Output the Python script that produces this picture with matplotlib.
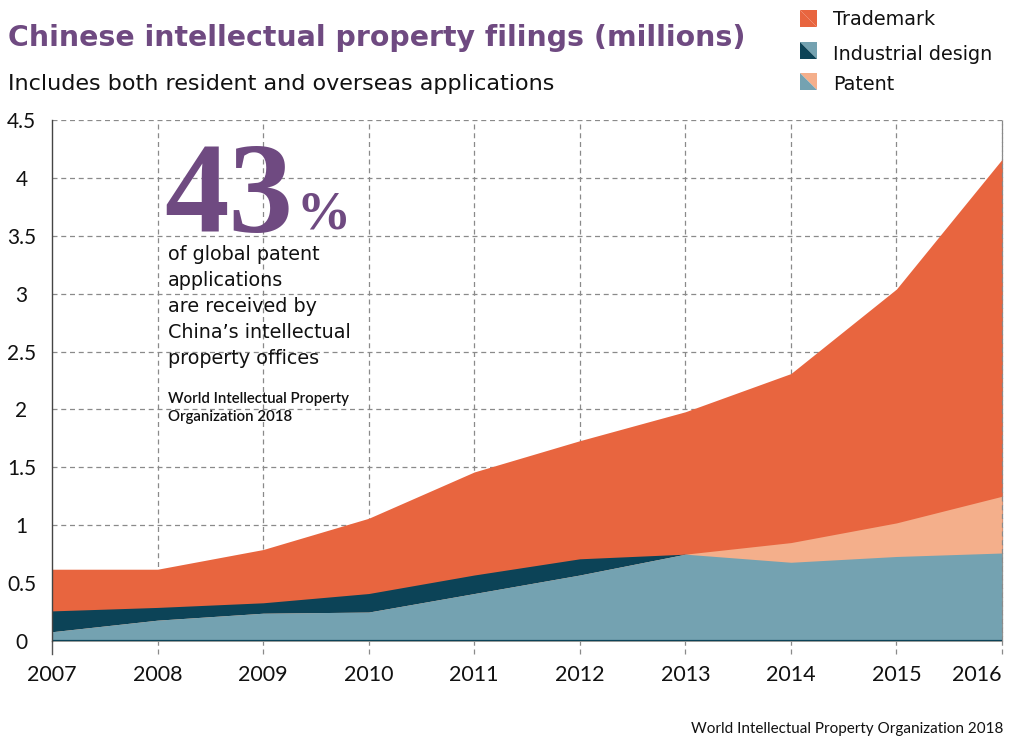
import matplotlib
matplotlib.use("Agg")
import matplotlib.pyplot as plt
import numpy as np
from matplotlib.patches import Polygon

years = [2007, 2008, 2009, 2010, 2011, 2012, 2013, 2014, 2015, 2016]
trademark = [0.62, 0.62, 0.79, 1.06, 1.46, 1.73, 1.98, 2.31, 3.04, 4.16]
industrial_design = [0.26, 0.29, 0.33, 0.41, 0.57, 0.71, 0.75, 0.68, 0.73, 0.76]
patent = [0.08, 0.18, 0.24, 0.25, 0.41, 0.57, 0.75, 0.85, 1.02, 1.25]
yticks = [0, 0.5, 1, 1.5, 2, 2.5, 3, 3.5, 4, 4.5]
ytick_labels = ["0", "0.5", "1", "1.5", "2", "2.5", "3", "3.5", "4", "4.5"]
legend_labels = ["Trademark", "Industrial design", "Patent"]

C_TM = "#E8653F"
C_DARK = "#0C4357"
C_BLUE = "#74A2B1"
C_SALMON = "#F4AF8B"
PURPLE = "#6F4A81"
SANS = "DejaVu Sans"
TICKF = "Lato"

W, H = 1029, 739
fig = plt.figure(figsize=(W / 100, H / 100), dpi=100)
x0, x1, yb, yt = 52, 1002, 641, 120
ax = fig.add_axes([x0 / W, 1 - yb / H, (x1 - x0) / W, (yb - yt) / H])

x = np.array(years)
tm = np.array(trademark)
de = np.array(industrial_design)
pa = np.array(patent)

ax.fill_between(x, 0, tm, color=C_TM, lw=0, zorder=2)
ax.fill_between(x, 0, de, color=C_DARK, lw=0, zorder=3)
ax.fill_between(x, 0, pa, color=C_SALMON, lw=0, zorder=4)
ax.fill_between(x, 0, np.minimum(de, pa), color=C_BLUE, lw=0, zorder=5)

ax.set_xlim(years[0], years[-1])
ax.set_ylim(0, 4.5)

# grid
for yv in yticks[1:]:
    ax.plot([years[0], years[-1]], [yv, yv], color="#8a8a8a", lw=0.9,
            dashes=(4, 3), zorder=1)
for xv in years[1:]:
    ax.plot([xv, xv], [-0.11, 4.5], color="#8a8a8a", lw=0.9,
            dashes=(4, 3), zorder=1, clip_on=False)
ax.plot([years[-1], years[-1]], [0, 4.5], color="#8a8a8a", lw=0.9,
        dashes=(4, 3), zorder=6, clip_on=False)
ax.plot([years[0], years[0]], [-0.11, 0], color="#555555", lw=1.0,
        zorder=6, clip_on=False)

for s in ["top", "right", "bottom"]:
    ax.spines[s].set_visible(False)
ax.spines["left"].set_color("#444444")
ax.spines["left"].set_linewidth(1.0)
ax.spines["left"].set_zorder(7)
ax.axhline(0, color=C_DARK, lw=1.6, zorder=7)

ax.set_yticks(yticks)
ax.set_yticklabels(ytick_labels, fontfamily=TICKF, fontsize=15, color="#111111")
ax.tick_params(axis="y", length=0, pad=22)
for lab in ax.get_yticklabels():
    lab.set_horizontalalignment("center")

ax.set_xticks(years)
ax.set_xticklabels([str(y) for y in years], fontfamily=TICKF, fontsize=15.5,
                   color="#111111")
ax.tick_params(axis="x", length=0, pad=17)
ax.get_xticklabels()[-1].set_horizontalalignment("right")

# titles
fig.text(8 / W, 1 - 46 / H, "Chinese intellectual property filings (millions)",
         fontfamily=SANS, fontweight="bold", fontsize=20.4, color=PURPLE,
         va="baseline", ha="left")
fig.text(8 / W, 1 - 90 / H, "Includes both resident and overseas applications",
         fontfamily=SANS, fontsize=16.0, color="#111111", va="baseline", ha="left")

# annotation
fig.text(164 / W, 1 - 232 / H, "43", fontfamily="Liberation Serif",
         fontweight="bold", fontsize=93, color=PURPLE, va="baseline", ha="left")
fig.text(296 / W, 1 - 228 / H, "%", fontfamily="Liberation Serif",
         fontweight="bold", fontsize=39, color=PURPLE, va="baseline", ha="left")
fig.text(168 / W, 1 - 245 / H,
         "of global patent\napplications\nare received by\nChina\u2019s intellectual\nproperty offices",
         fontfamily=SANS, fontsize=13.8, color="#111111", va="top", ha="left",
         linespacing=1.47)
fig.text(168 / W, 1 - 392 / H,
         "World Intellectual Property\nOrganization 2018",
         fontfamily=TICKF, fontsize=10.8, fontweight="semibold", color="#111111",
         va="top", ha="left", linespacing=1.4)

fig.text(1003 / W, 1 - 733 / H, "World Intellectual Property Organization 2018",
         fontfamily=TICKF, fontsize=11, color="#111111", va="baseline", ha="right")

# legend
def sq(px, py, s=17):
    l, r = px / W, (px + s) / W
    t, b = 1 - py / H, 1 - (py + s) / H
    return l, r, t, b

legend_top = [10, 42, 73]
legend_base = [25, 60, 90]
legend_fill = [(C_TM, C_TM), (C_BLUE, C_DARK), (C_SALMON, C_BLUE)]
for lab, top, base, (c_up, c_lo) in zip(legend_labels, legend_top, legend_base,
                                         legend_fill):
    l, r, t, b = sq(800, top)
    fig.patches.append(Polygon([(l, t), (r, t), (r, b)], closed=True,
                               transform=fig.transFigure, facecolor=c_up, lw=0))
    fig.patches.append(Polygon([(l, t), (r, b), (l, b)], closed=True,
                               transform=fig.transFigure, facecolor=c_lo, lw=0))
    fig.text(833 / W, 1 - base / H, lab, fontfamily=SANS, fontsize=13.8,
             color="#111111", va="baseline", ha="left")

fig.savefig("out.png", dpi=100, facecolor="white")
